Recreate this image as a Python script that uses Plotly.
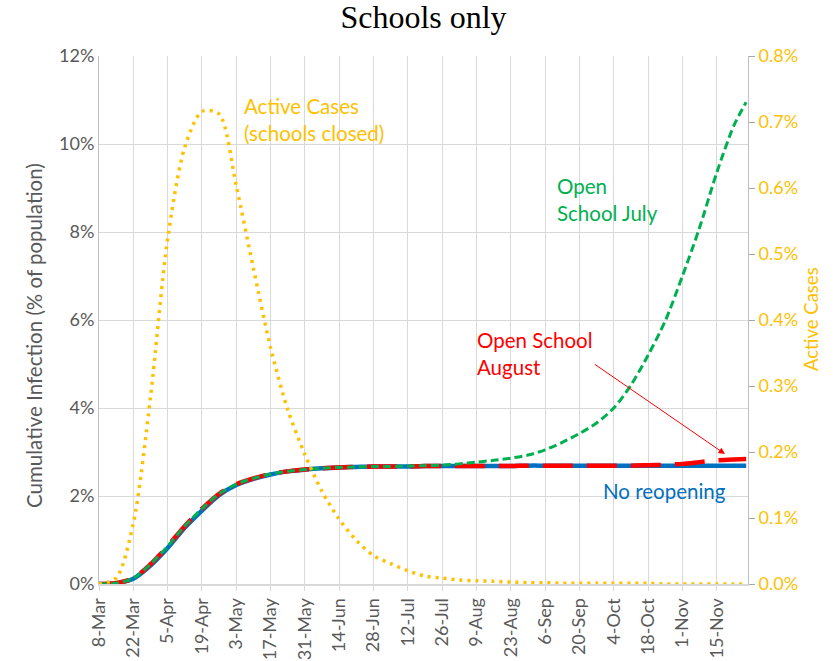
import pandas as pd
import plotly.graph_objects as go

# ---- data ----
dates = list(pd.date_range("2020-03-08", "2020-11-22", freq="7D").strftime("%Y-%m-%d")) + ["2020-11-27"]

no_reopening = [0.00, 0.02, 0.12, 0.42, 0.82, 1.28, 1.67, 2.02, 2.25, 2.39,
                2.49, 2.56, 2.60, 2.63, 2.65, 2.66, 2.67, 2.67, 2.67, 2.68,
                2.68, 2.68, 2.68, 2.68, 2.68, 2.69, 2.69, 2.69, 2.69, 2.69,
                2.69, 2.69, 2.69, 2.69, 2.69, 2.69, 2.69, 2.69, 2.69]

open_august = [0.00, 0.02, 0.13, 0.45, 0.86, 1.32, 1.71, 2.05, 2.27, 2.40,
               2.50, 2.56, 2.60, 2.63, 2.65, 2.66, 2.67, 2.67, 2.67, 2.68,
               2.68, 2.68, 2.68, 2.68, 2.68, 2.69, 2.69, 2.69, 2.69, 2.69,
               2.69, 2.69, 2.70, 2.71, 2.73, 2.77, 2.81, 2.83, 2.84]

open_july = [0.00, 0.02, 0.13, 0.45, 0.86, 1.32, 1.71, 2.05, 2.27, 2.40,
             2.50, 2.56, 2.60, 2.63, 2.65, 2.66, 2.67, 2.67, 2.68, 2.69,
             2.70, 2.73, 2.77, 2.81, 2.86, 2.93, 3.05, 3.22, 3.42, 3.66,
             4.00, 4.52, 5.20, 5.98, 7.00, 8.10, 9.35, 10.42, 10.95]

active_cases = [0.000, 0.009, 0.092, 0.283, 0.523, 0.662, 0.716, 0.712, 0.603, 0.478,
                0.358, 0.264, 0.196, 0.140, 0.098, 0.066, 0.043, 0.031, 0.020, 0.012,
                0.009, 0.006, 0.005, 0.004, 0.003, 0.002, 0.002, 0.001, 0.001, 0.001,
                0.001, 0.001, 0.001, 0.000, 0.000, 0.000, 0.000, 0.000, 0.000]

BLUE = "#0070C0"
RED = "#FF0000"
GREEN = "#00B050"
GOLD = "#FFC000"
GREY = "#595959"
FONT = "Lato"

fig = go.Figure()
fig.add_trace(go.Scatter(x=dates, y=no_reopening, mode="lines", name="No reopening",
                         line=dict(color=BLUE, width=4.5, shape="spline", smoothing=0.8)))
fig.add_trace(go.Scatter(x=dates, y=open_august, mode="lines", name="Open School August",
                         line=dict(color=RED, width=4.5, dash="30px,14px", shape="spline", smoothing=0.8)))
fig.add_trace(go.Scatter(x=dates, y=open_july, mode="lines", name="Open School July",
                         line=dict(color=GREEN, width=3, dash="8px,4px", shape="spline", smoothing=0.8)))
fig.add_trace(go.Scatter(x=dates, y=active_cases, mode="lines", name="Active Cases",
                         yaxis="y2",
                         line=dict(color=GOLD, width=3.5, dash="3px,5px", shape="spline", smoothing=0.8)))

W, H = 833, 661
L, R, T, B = 99, 85, 56, 77

fig.update_layout(
    width=W, height=H,
    margin=dict(l=L, r=R, t=T, b=B, pad=0, autoexpand=False),
    paper_bgcolor="white", plot_bgcolor="white",
    showlegend=False,
    title=dict(text="Schools only", x=0.5, xref="paper", y=1 - 17 / H, yanchor="middle",
               font=dict(family="Liberation Serif", size=32, color="#000000")),
    xaxis=dict(
        type="date", automargin=False,
        range=["2020-03-08", "2020-11-27 18:00"],
        tickmode="linear", tick0="2020-03-08", dtick=14 * 86400000,
        tickformat="%-d-%b", tickangle=-90,
        tickfont=dict(family=FONT, size=18, color=GREY),
        showgrid=True, gridcolor="#D9D9D9", gridwidth=1,
        showline=True, linecolor="#D9D9D9", linewidth=2,
        ticks="outside", ticklen=5, tickcolor="#D9D9D9", tickwidth=1,
        zeroline=False,
    ),
    yaxis=dict(
        automargin=False,
        range=[0, 12], tickmode="linear", tick0=0, dtick=2,
        ticksuffix="%", tickformat="d",
        tickfont=dict(family=FONT, size=18, color=GREY),
        showgrid=True, gridcolor="#D9D9D9", gridwidth=1,
        showline=True, linecolor="#BFBFBF", linewidth=1,
        ticks="", zeroline=False,
    ),
    yaxis2=dict(
        overlaying="y", side="right", automargin=False,
        range=[0, 0.8], tickmode="linear", tick0=0, dtick=0.1,
        tickformat=".1f", ticksuffix="%",
        tickfont=dict(family=FONT, size=18, color=GOLD),
        showgrid=False, zeroline=False,
        showline=True, linecolor="#BFBFBF", linewidth=1,
        ticks="outside", ticklen=6, tickcolor="#A6A6A6",
    ),
)

pw, ph = W - L - R, H - T - B


def px(x):
    return (x - L) / pw


def py(y):
    return (H - B - y) / ph


annotations = [
    dict(text="Cumulative Infection (% of population)", x=px(20), y=py(336), textangle=-90,
         font=dict(family=FONT, size=20.5, color=GREY)),
    dict(text="Active Cases", x=px(824), y=py(319), textangle=-90,
         font=dict(family=FONT, size=18.5, color=GOLD)),
    dict(text="Active Cases<br>(schools closed)", x=px(242), y=py(119.5), xanchor="left", align="left",
         font=dict(family=FONT, size=20.5, color=GOLD)),
    dict(text="Open<br>School July", x=px(555), y=py(199.5), xanchor="left", align="left",
         font=dict(family=FONT, size=20.5, color=GREEN)),
    dict(text="Open School<br>August", x=px(474.5), y=py(353), xanchor="left", align="left",
         font=dict(family=FONT, size=20.5, color=RED)),
    dict(text="No reopening", x=px(600.5), y=py(491), xanchor="left", align="left",
         font=dict(family=FONT, size=20.5, color=BLUE)),
]
for a in annotations:
    a.update(xref="paper", yref="paper", showarrow=False, yanchor="middle")

annotations.append(dict(text="", xref="paper", yref="paper", x=px(725), y=py(454),
                        showarrow=True, ax=-131.7, ay=-90.7, arrowhead=2, arrowsize=1.3,
                        arrowwidth=1, arrowcolor=RED, standoff=0))
fig.update_layout(annotations=annotations)

# remove the browser's default 8px body margin so the figure sits at the page origin
fig.write_html("out.html",
               config={"displayModeBar": False},
               post_script="document.body.style.margin='0';document.body.style.overflow='hidden';")
